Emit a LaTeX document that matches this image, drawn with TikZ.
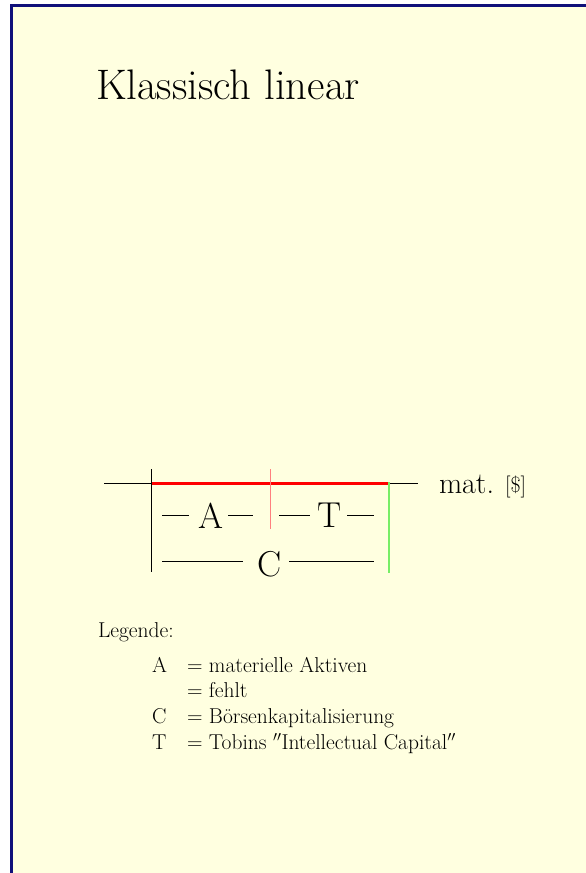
\documentclass[tikz,border=0pt]{standalone}
\usepackage{fontspec}
\definecolor{bgyellow}{HTML}{FFFFE0}
\definecolor{framenavy}{HTML}{10107A}
\definecolor{thinred}{HTML}{FF7F7F}
\definecolor{thickred}{HTML}{FF0000}
\definecolor{axisgreen}{HTML}{77EE66}
\tikzset{
  txt/.style={inner sep=0pt, outer sep=0pt},
  bigletter/.style={txt, font=\fontsize{36}{40}\selectfont},
  legtxt/.style={txt, anchor=base west, font=\fontsize{21.5}{26}\selectfont},
  axisline/.style={black, line width=1pt},
  dashline/.style={black, line width=0.9pt},
}
\begin{document}
\begin{tikzpicture}[x=1pt,y=-1pt]
\useasboundingbox (0,0) rectangle (586,873);
\fill[white] (0,0) rectangle (586,873);
\fill[bgyellow] (10,4) rectangle (586,873);
\draw[framenavy, line width=3pt] (11.5,873) -- (11.5,5.5) -- (586,5.5);

% title
\node[txt, anchor=base west, font=\fontsize{42.7}{50}\selectfont] (title) at (96,99) {Klassisch linear};

% axis coordinates
\coordinate (hl) at (104,483.5);
\coordinate (c1) at (151,483.5);
\coordinate (c2) at (270,483.5);
\coordinate (c3) at (389,483.5);
\coordinate (hr) at (418,483.5);
\coordinate (v1t) at (151,469);
\coordinate (v1b) at (151,572);
\coordinate (v2t) at (270,469);
\coordinate (v2b) at (270,529);
\coordinate (v3t) at (389,482);
\coordinate (v3b) at (389,573);

\draw[axisline] (hl) -- (c1);
\draw[axisline] (c3) -- (hr);
\draw[thickred, line width=3pt] (c1) -- (c3);
\draw[axisline] (v1t) -- (v1b);
\draw[thinred, line width=1pt] (v2t) -- (v2b);
\draw[axisgreen, line width=1.5pt] (v3t) -- (v3b);

% letters
\node[bigletter] (A) at (210.5,515.5) {A};
\node[bigletter] (T) at (329.5,515.5) {T};
\node[bigletter] (C) at (270,564) {C};

\draw[dashline] (162,515) -- (189,515);
\draw[dashline] (228,515) -- (253,515);
\draw[dashline] (279,515) -- (310,515);
\draw[dashline] (347,515) -- (374,515);
\draw[dashline] (162,561) -- (243,561);
\draw[dashline] (289,561) -- (374,561);

% unit label
\node[txt, anchor=base west, font=\fontsize{30}{36}\selectfont] (mat) at (439,493) {mat.};
\node[txt, anchor=base west, font=\fontsize{22}{26}\selectfont] (unit) at (505,492) {[\$]};

% legend
\node[legtxt] (leg) at (98,637) {Legende:};
\node[legtxt] (lA) at (152,672) {A};
\node[legtxt] (eA) at (187,672) {= materielle Aktiven};
\node[legtxt] (eF) at (187,697) {= fehlt};
\node[legtxt] (lC) at (152,723) {C};
\node[legtxt] (eC) at (187,723) {= Börsenkapitalisierung};
\node[legtxt] (lT) at (152,749) {T};
\node[legtxt] (eT) at (187,749) {= Tobins $''$Intellectual Capital$''$};
\end{tikzpicture}
\end{document}
